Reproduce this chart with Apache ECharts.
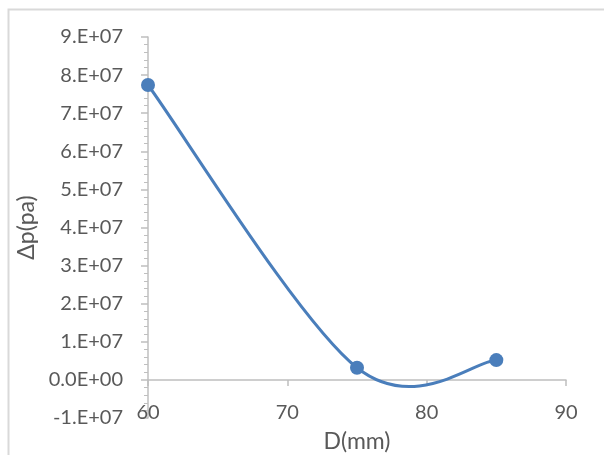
<!DOCTYPE html>
<html>
<head>
<meta charset="utf-8">
<script src="https://cdn.jsdelivr.net/npm/echarts@6/dist/echarts.min.js"></script>
<style>
  html, body { margin: 0; padding: 0; background: #fff; }
  #chart { width: 604px; height: 455px; }
</style>
</head>
<body>
<div id="chart"></div>
<script>
// D in mm, pressure drop in pa
const dValues = [60, 75, 85];
const dpValues = [7.74e7, 3.2e6, 5.2e6];
const xTicks = [60, 70, 80, 90];
const yTicks = [-1e7, 0, 1e7, 2e7, 3e7, 4e7, 5e7, 6e7, 7e7, 8e7, 9e7];

const textColor = '#595959';
const axisColor = '#bfbfbf';
const lineColor = '#4a7ebb';
const font = 'Lato, "Liberation Sans", sans-serif';

function fmtY(v) {
    if (v === 0) return '0.0E+00';
    return Math.round(v / 1e7) + '.E+07';
}

// excel style smoothed line (catmull-rom, 1/6 tension) through the points
function renderCurve(params, api) {
    if (params.dataIndex !== 0) return null;
    const p = dValues.map((d, i) => api.coord([d, dpValues[i]]));
    let path = 'M' + p[0][0] + ' ' + p[0][1];
    for (let i = 0; i < p.length - 1; i++) {
        const p0 = p[i - 1] || p[i];
        const p1 = p[i];
        const p2 = p[i + 1];
        const p3 = p[i + 2] || p[i + 1];
        const c1x = p1[0] + (p2[0] - p0[0]) / 6;
        const c1y = p1[1] + (p2[1] - p0[1]) / 6;
        const c2x = p2[0] - (p3[0] - p1[0]) / 6;
        const c2y = p2[1] - (p3[1] - p1[1]) / 6;
        path += ' C' + c1x + ' ' + c1y + ' ' + c2x + ' ' + c2y + ' ' + p2[0] + ' ' + p2[1];
    }
    return {
        type: 'path',
        shape: { pathData: path },
        style: { fill: 'none', stroke: lineColor, lineWidth: 3 }
    };
}

const chart = echarts.init(document.getElementById('chart'));
const points = dValues.map((d, i) => [d, dpValues[i]]);
const option = {
    animation: false,
    backgroundColor: '#fff',
    textStyle: { fontFamily: font },
    grid: { left: 148, right: 38, top: 37, bottom: 37, containLabel: false, outerBoundsMode: 'none' },
    graphic: [{
        type: 'rect',
        left: 6, top: 7,
        shape: { width: 700, height: 600 },
        style: { fill: 'none', stroke: '#d9d9d9', lineWidth: 2 },
        silent: true
    }],
    xAxis: {
        type: 'value',
        min: xTicks[0],
        max: xTicks[xTicks.length - 1],
        interval: 10,
        name: 'D(mm)',
        nameLocation: 'middle',
        nameGap: 12,
        nameMoveOverlap: false,
        nameTextStyle: { color: textColor, fontSize: 23, fontFamily: font },
        axisLine: { onZero: true, lineStyle: { color: axisColor, width: 1.5 } },
        axisTick: { show: true, length: 6, lineStyle: { color: axisColor, width: 1.5 } },
        axisLabel: { color: textColor, fontSize: 20, margin: -15, fontFamily: font },
        splitLine: { show: false }
    },
    yAxis: {
        type: 'value',
        min: yTicks[0],
        max: yTicks[yTicks.length - 1],
        interval: 1e7,
        name: 'Δp(pa)',
        nameLocation: 'middle',
        nameRotate: 90,
        nameGap: 108,
        nameTextStyle: { color: textColor, fontSize: 23, fontFamily: font },
        axisLine: { show: true, onZero: false, lineStyle: { color: axisColor, width: 1.5 } },
        axisTick: { show: true, length: 7, lineStyle: { color: axisColor, width: 1.5 } },
        minorTick: { show: true, splitNumber: 5, length: 4, lineStyle: { color: axisColor, width: 1 } },
        axisLabel: { color: textColor, fontSize: 20, margin: 25, formatter: fmtY, fontFamily: font },
        splitLine: { show: false }
    },
    series: [{
        type: 'custom',
        renderItem: renderCurve,
        data: points,
        clip: false,
        z: 2
    }, {
        type: 'scatter',
        data: points,
        symbol: 'circle',
        symbolSize: 14,
        itemStyle: { color: lineColor, opacity: 1 },
        z: 3
    }]
};
chart.setOption(option);
</script>
</body>
</html>
